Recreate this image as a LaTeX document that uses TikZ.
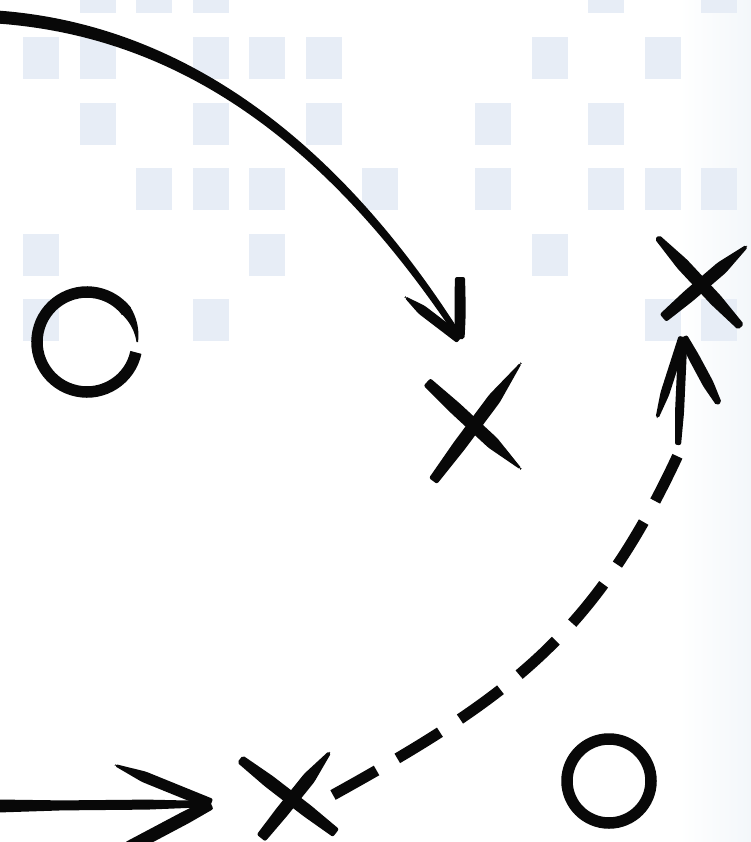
\documentclass[tikz,border=0pt]{standalone}
\usetikzlibrary{calc}
\definecolor{ink}{RGB}{8,8,8}
\definecolor{tilecol}{RGB}{231,237,246}
\definecolor{edgecol}{RGB}{243,247,250}
% tapered brush stroke: from A to B, half widths at A, body, B
\newcommand\brushstroke[5]{%
  \fill[ink,rounded corners=2pt]
    ($(#1)!#3!90:(#2)$) -- ($(#1)!0.3!(#2)!#4!90:(#2)$) -- ($(#1)!0.7!(#2)!#4!90:(#2)$) -- ($(#2)!#5!-90:(#1)$) --
    ($(#2)!#5!90:(#1)$) -- ($(#1)!0.7!(#2)!#4!-90:(#2)$) -- ($(#1)!0.3!(#2)!#4!-90:(#2)$) -- ($(#1)!#3!-90:(#2)$) -- cycle;}
\tikzset{
  tile/.style={fill=tilecol},
  dashlink/.style={draw=ink,line width=11pt,dash pattern=on 50pt off 24pt},
  ring/.style={draw=ink,line width=11.5pt},
}
\begin{document}
\begin{tikzpicture}[x=1pt,y=-1pt]
\useasboundingbox (0,0) rectangle (751,842);
\fill[white] (0,0) rectangle (751,842);
\shade[left color=white,right color=edgecol] (680,0) rectangle (751,842);
% background tiles
\foreach \r/\cols in {0/{1,2,3,10,12},1/{0,1,3,4,5,9,11},2/{1,3,5,8,10},3/{2,3,4,6,8,10,11,12},4/{0,4,9},5/{0,3,11,12}}{
  \foreach \c in \cols {
    \fill[tile] ({23+56.5*\c},{37+65.6*(\r-1)}) rectangle ++(36,42);
  }
}
% ---- named points
\coordinate (xMidA1) at (427,382); \coordinate (xMidA2) at (521,469);
\coordinate (xMidB1) at (521,363); \coordinate (xMidB2) at (433,481);
\coordinate (xTRA1) at (657,237); \coordinate (xTRA2) at (741,327);
\coordinate (xTRB1) at (747,246); \coordinate (xTRB2) at (663,318);
\coordinate (xBotA1) at (240,759); \coordinate (xBotA2) at (336,833);
\coordinate (xBotB1) at (330,752); \coordinate (xBotB2) at (261,838);
\coordinate (tipBig) at (460,339);
\coordinate (barbBigL) at (405,297); \coordinate (barbBigR) at (460,277);
\coordinate (tipDash) at (683,337);
\coordinate (barbDashL) at (657,418); \coordinate (barbDashR) at (719,404);
\coordinate (shaftDash) at (678,445);
\coordinate (dashStart) at (333,795); \coordinate (dashEnd) at (678,455);
\coordinate (tipLow) at (211,804); \coordinate (shaftLow) at (-2,806);
\coordinate (barbLowU) at (115,765); \coordinate (barbLowD) at (128,848);
\coordinate (ringL) at (87,342); \coordinate (ringR) at (609,781);
% ---- big curved arrow (top left)
\fill[ink] (-3,10.5) .. controls (180,23.5) and (334.6,137) .. (457.5,328.3)
  -- (452.5,331.7) .. controls (325.4,143) and (180,36.5) .. (-3,23.5) -- cycle;
\brushstroke{barbBigL}{tipBig}{0.8pt}{5pt}{5pt}
\brushstroke{barbBigR}{tipBig}{5pt}{5.5pt}{4.5pt}
% ---- middle X
\brushstroke{xMidA1}{xMidA2}{5pt}{6.5pt}{0.8pt}
\brushstroke{xMidB1}{xMidB2}{0.8pt}{6.5pt}{5pt}
% ---- top right X
\brushstroke{xTRA1}{xTRA2}{3pt}{6.5pt}{4pt}
\brushstroke{xTRB1}{xTRB2}{1.5pt}{6.5pt}{5pt}
% ---- bottom X
\brushstroke{xBotA1}{xBotA2}{4.5pt}{6.5pt}{5pt}
\brushstroke{xBotB1}{xBotB2}{1.5pt}{6.5pt}{5.5pt}
% ---- dashed connector
\draw[dashlink] (dashStart) .. controls (507.8,698) and (593.6,636.4) .. (dashEnd);
\brushstroke{shaftDash}{tipDash}{3pt}{4.5pt}{4.5pt}
\brushstroke{barbDashL}{tipDash}{1.5pt}{4.5pt}{4.5pt}
\brushstroke{barbDashR}{tipDash}{3pt}{5.5pt}{4.5pt}
% ---- bottom left arrow
\brushstroke{shaftLow}{tipLow}{6.5pt}{5pt}{3pt}
\brushstroke{barbLowU}{tipLow}{1pt}{5.5pt}{5.5pt}
\brushstroke{tipLow}{barbLowD}{5.5pt}{6.5pt}{6.5pt}
% ---- rings
\draw[ring] ($(ringL)+(12:50)$) arc[start angle=12,end angle=322,radius=50];
\fill[ink] plot[domain=320:360,samples=24] ({87+(55.75-4.75*(\x-320)/40)*cos(\x)},{342+(55.75-4.75*(\x-320)/40)*sin(\x)})
  -- plot[domain=360:320,samples=24] ({87+(44.25+5.25*(\x-320)/40)*cos(\x)},{342+(44.25+5.25*(\x-320)/40)*sin(\x)}) -- cycle;
\draw[ring] (ringR) circle[radius=42];
\end{tikzpicture}
\end{document}
